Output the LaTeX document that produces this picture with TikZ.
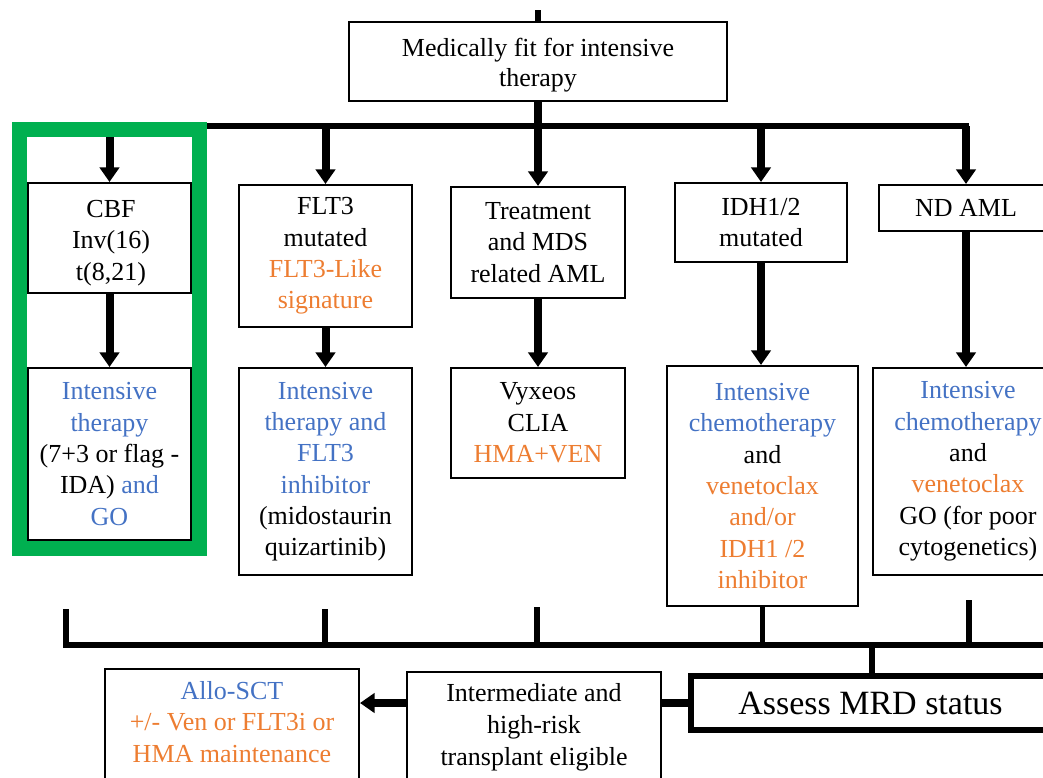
\documentclass[tikz,border=0pt]{standalone}
\usepackage{fontspec}
\setmainfont{Liberation Serif}
\usetikzlibrary{arrows.meta}
\definecolor{cblue}{HTML}{4472C4}
\definecolor{corange}{HTML}{ED7D31}
\definecolor{cgreen}{HTML}{00B050}
\begin{document}
\begin{tikzpicture}[x=0.75pt,y=-0.75pt,
  every node/.style={font=\fontsize{19.5}{23.5}\selectfont},
  box/.style={draw, line width=1.5pt, inner sep=0pt, align=center},
  txt/.style={inner sep=0pt, align=center},
  arr/.style={line width=6pt, -{Triangle[width=14.5pt,length=11pt]}},
  bar/.style={line width=4.5pt},
  lnb/.style={line width=4pt},
  thk/.style={line width=5.5pt}]
\useasboundingbox (0,0) rectangle (1043,778);
\clip (0,0) rectangle (1043,778);

% top
\coordinate (in) at (538,10);
\node[box, minimum width=283.5pt, minimum height=59.25pt] (top) at (538,61.5) {};
\node[txt, font=\fontsize{19.5}{22.5}\selectfont] (topt) at (538,65) {Medically fit for intensive\\therapy};
\draw[bar] (in) -- (top.north);

% level 1
\node[box, minimum width=122.25pt, minimum height=82.5pt] (cbf) at (109.5,238) {};
\node[txt] (cbft) at (111,243) {CBF\\Inv(16)\\t(8,21)};
\node[box, minimum width=129.75pt, minimum height=106.5pt] (flt3) at (325.5,256) {FLT3\\mutated\\\textcolor{corange}{FLT3-Like}\\\textcolor{corange}{signature}};
\node[box, minimum width=130.5pt, minimum height=83.25pt] (trt) at (538,242.5) {Treatment\\and MDS\\related AML};
\node[box, minimum width=129pt, minimum height=59.25pt] (idh) at (761,222.5) {IDH1/2\\mutated};
\node[box, minimum width=130.5pt, minimum height=34.5pt] (nd) at (966,208) {ND AML};

% level 2
\node[box, minimum width=122.25pt, minimum height=129pt] (int1) at (109.5,454) {\textcolor{cblue}{Intensive}\\\textcolor{cblue}{therapy}\\(7+3 or flag -\\IDA) \textcolor{cblue}{and}\\\textcolor{cblue}{GO}};
\node[box, minimum width=129.75pt, minimum height=155.25pt] (int2) at (325.5,471.5) {\textcolor{cblue}{Intensive}\\\textcolor{cblue}{therapy and}\\\textcolor{cblue}{FLT3}\\\textcolor{cblue}{inhibitor}\\(midostaurin\\quizartinib)};
\node[box, minimum width=130.5pt, minimum height=82.5pt] (vyx) at (538,423) {Vyxeos\\CLIA\\\textcolor{corange}{HMA+VEN}};
\node[box, minimum width=143.25pt, minimum height=180pt] (chemo1) at (762.5,486) {\textcolor{cblue}{Intensive}\\\textcolor{cblue}{chemotherapy}\\and\\\textcolor{corange}{venetoclax}\\\textcolor{corange}{and/or}\\\textcolor{corange}{IDH1 /2}\\\textcolor{corange}{inhibitor}};
\node[box, minimum width=142.5pt, minimum height=155.25pt] (chemo2) at (968,471.5) {\textcolor{cblue}{Intensive}\\\textcolor{cblue}{chemotherapy}\\and\\\textcolor{corange}{venetoclax}\\GO (for poor\\cytogenetics)};

% top bar and arrows
\coordinate (bar1) at (200,126);
\coordinate (bar2) at (966,126);
\draw[bar, line cap=rect] (bar1) -- (bar2);
\draw[arr] (cbf.north |- bar1) -- (cbf.north);
\draw[arr] (flt3.north |- bar1) -- (flt3.north);
\draw[arr] (top.south) -- (trt.north);
\draw[arr] (idh.north |- bar1) -- (idh.north);
\draw[arr] (bar2) -- (nd.north);

\draw[arr] (cbf.south) -- (int1.north);
\draw[arr] (flt3.south) -- (int2.north);
\draw[arr] (trt.south) -- (vyx.north);
\draw[arr] (idh.south) -- (idh.south |- chemo1.north);
\draw[arr] (nd.south) -- (nd.south |- chemo2.north);

% green group frame
\node[draw=cgreen, line width=11.25pt, minimum width=135pt, minimum height=314.25pt, inner sep=0pt] (grp) at (109.5,339) {};

% bottom
\node[box, minimum width=190.5pt, minimum height=98.25pt] (allo) at (232,734.5) {};
\node[txt] (allot) at (232,722) {\textcolor{cblue}{Allo-SCT}\\\textcolor{corange}{+/- Ven or FLT3i or}\\\textcolor{corange}{HMA maintenance}};
\node[box, minimum width=190.5pt, minimum height=96pt] (inter) at (534,736) {};
\node[txt, font=\fontsize{19.5}{24}\selectfont] (intert) at (534,727) {Intermediate and\\high-risk\\transplant eligible};
\node[draw, line width=4.3pt, inner sep=0pt, minimum width=269.25pt, minimum height=40.5pt, font=\fontsize{25.5}{30}\selectfont] (mrd) at (870.5,703) {Assess MRD status};

\coordinate (d1) at (66,609);
\coordinate (d2) at (325,609);
\coordinate (d3) at (537,607);
\coordinate (d5) at (969,600);
\coordinate (barR) at (1060,645);
\coordinate (m1) at (872,645);
\draw[bar] (d1) |- (barR);
\draw[lnb] (d2) -- (d2 |- barR);
\draw[lnb] (d3) -- (d3 |- barR);
\draw[lnb] (chemo1.south) -- (chemo1.south |- barR);
\draw[lnb] (d5) -- (d5 |- barR);
\draw[lnb] (m1) -- (m1 |- mrd.north);
\draw[thk] (mrd.west) -- (mrd.west -| inter.east);
\draw[arr] (inter.west |- mrd.west) -- (allo.east |- mrd.west);
\end{tikzpicture}
\end{document}
